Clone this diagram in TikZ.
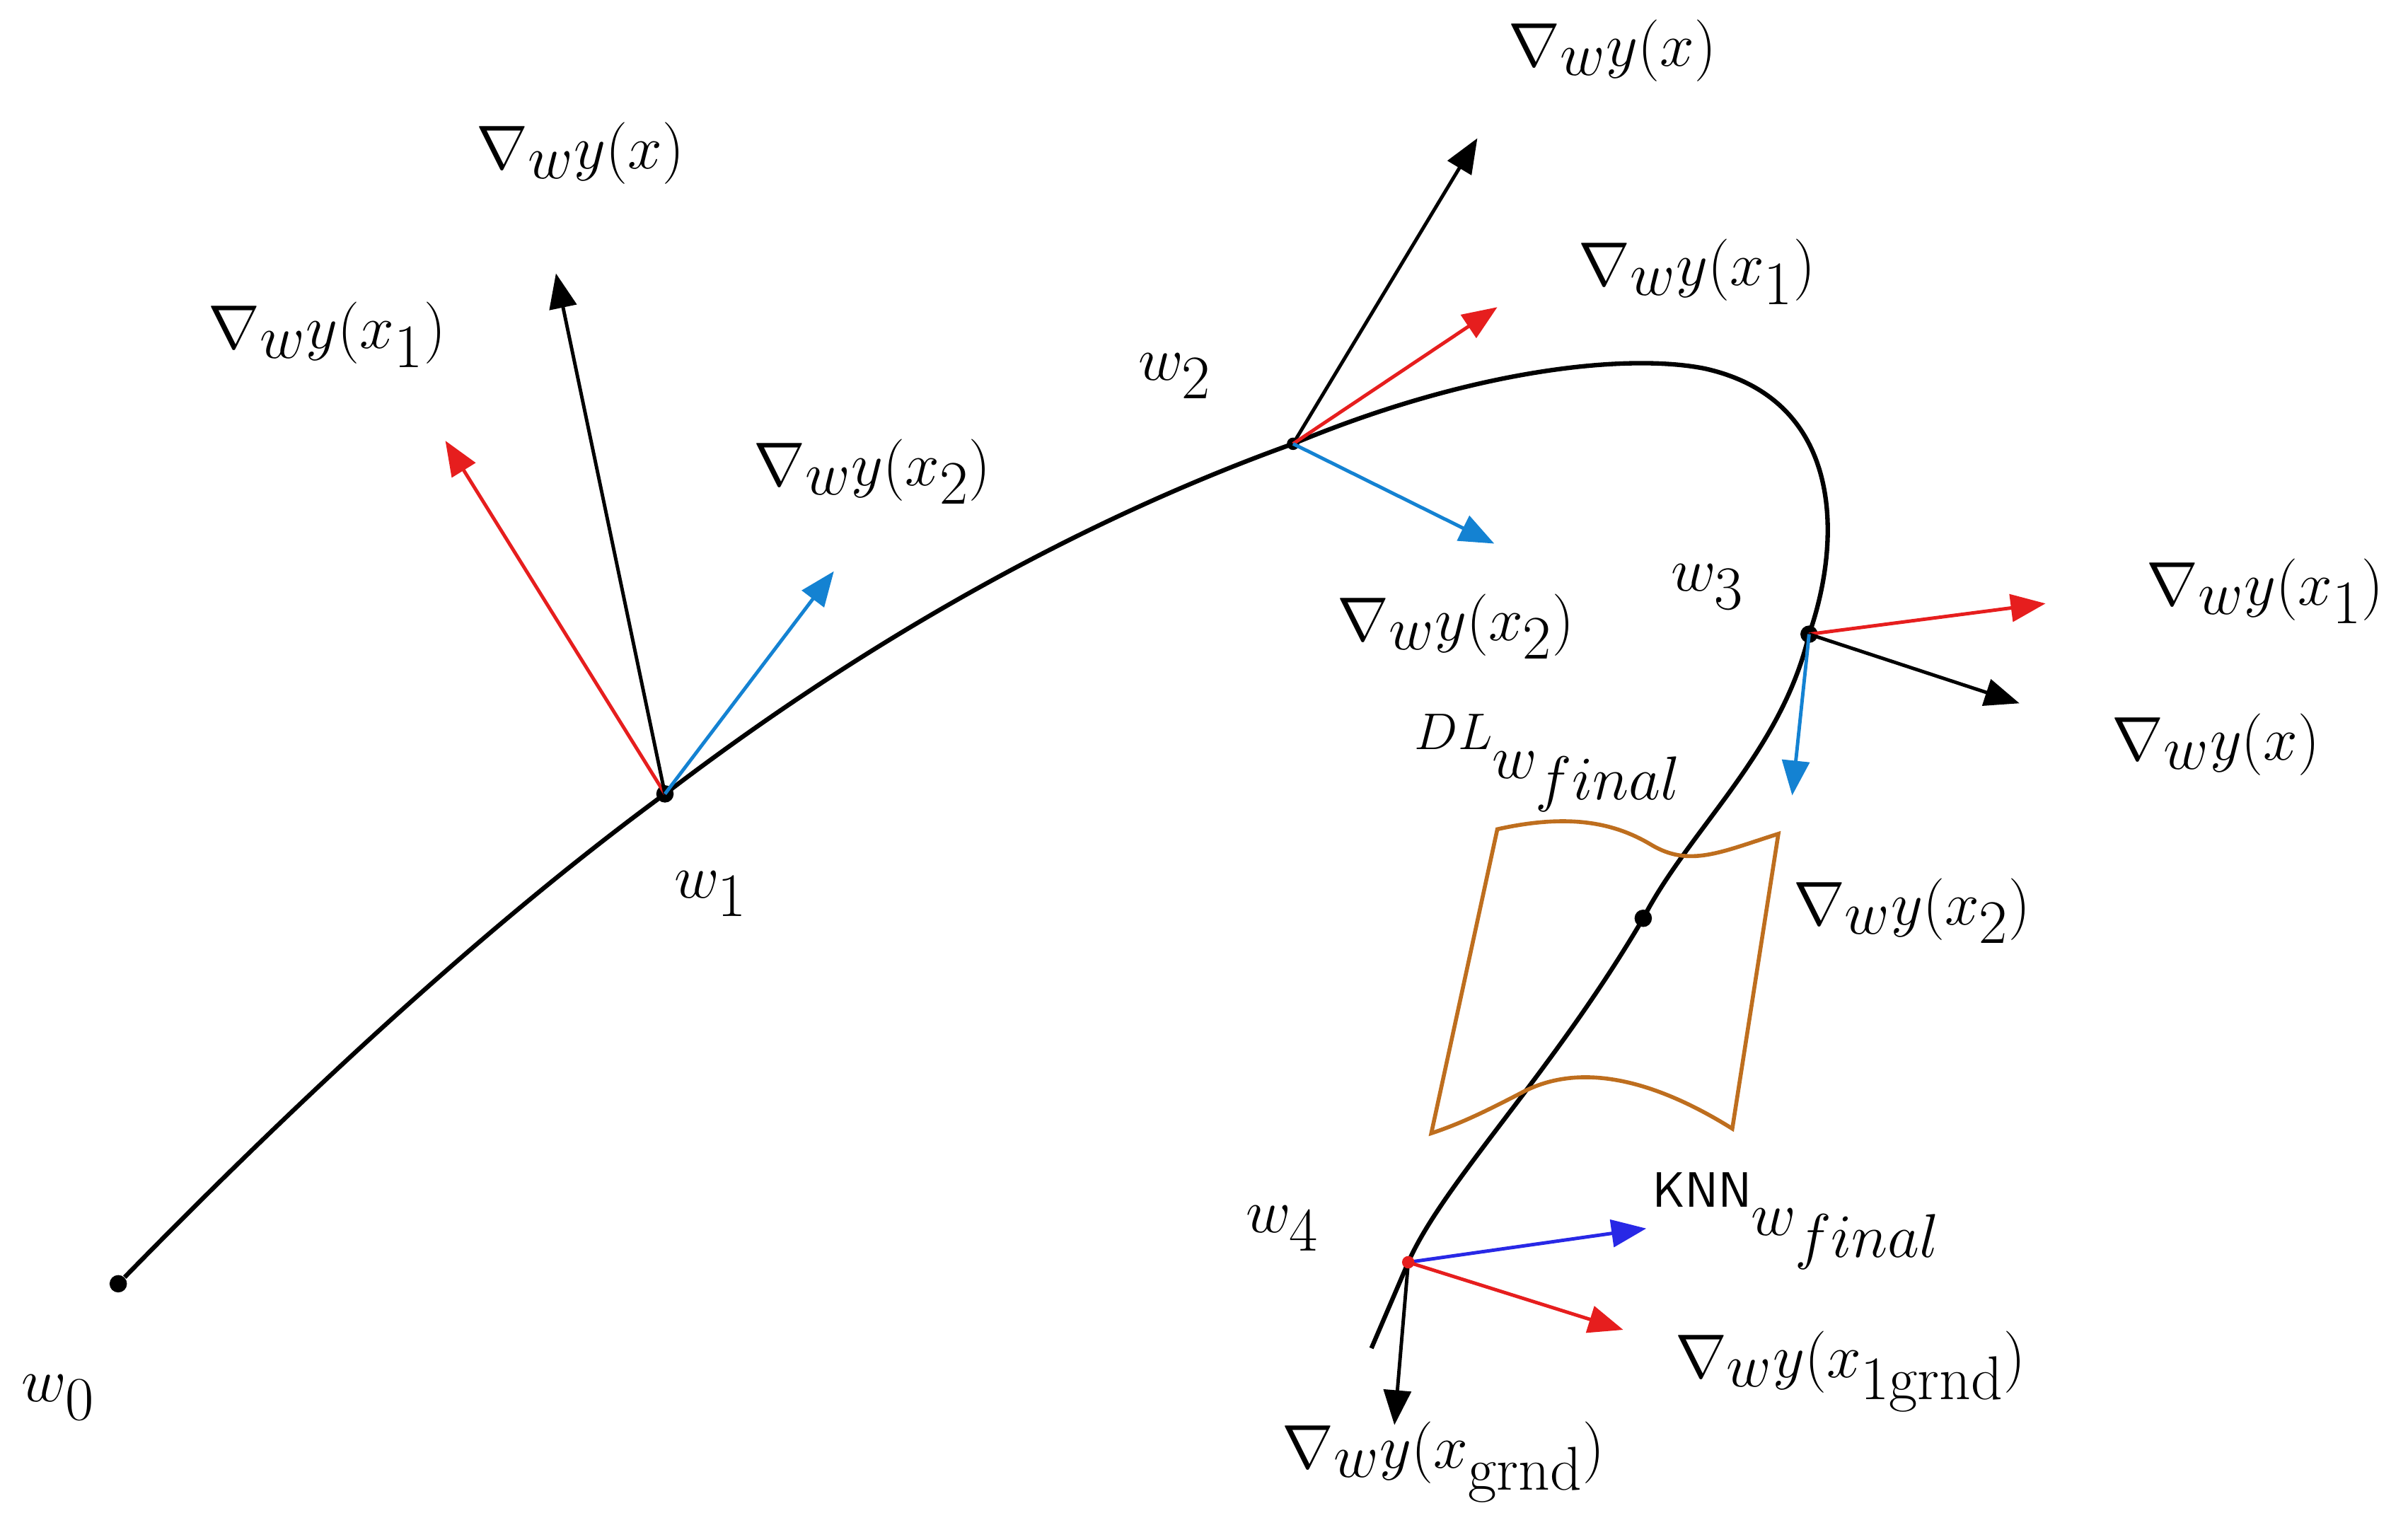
\documentclass[tikz,border=0pt]{standalone}
\usetikzlibrary{arrows.meta}
\definecolor{myred}{RGB}{230,30,30}
\definecolor{myblue}{RGB}{20,130,210}
\definecolor{mydblue}{RGB}{40,40,230}
\definecolor{mybrown}{RGB}{190,110,30}
\begin{document}
\begin{tikzpicture}[x=0.02171cm,y=-0.02171cm,
  lab/.style={font=\fontsize{33}{38}\selectfont, inner sep=0pt},
  vec/.style={line width=1.4pt,-{Triangle[length=14pt,width=11pt]}},
  pt/.style={circle,fill=black,inner sep=0pt,minimum size=7pt}]
\useasboundingbox (0,0) rectangle (1568,985);
\node[pt] (w0) at (77,836) {};
\coordinate (w1) at (433,517);
\coordinate (w2) at (842,289);
\coordinate (w3) at (1178,413);
\coordinate (w4) at (917,822);
\coordinate (e) at (893,878);
\draw[line width=1.8pt] (w0) .. controls (200,710) and (320,600) .. (w1)
  .. controls (560,420) and (700,340) .. (w2)
  .. controls (960,240) and (1060,230) .. (1110,240)
  .. controls (1200,260) and (1200,350) .. (w3)
  .. controls (1160,490) and (1100,540) .. (1070,598)
  .. controls (1010,700) and (940,770) .. (w4) -- (e);
\node[pt] at (w1) {};
\node[pt,minimum size=5pt] at (w2) {};
\node[pt] at (w3) {};
\node[pt] (mid) at (1070,598) {};
\coordinate (a1) at (290,287); \coordinate (b1) at (362,178); \coordinate (c1) at (543,372);
\draw[vec,myred] (w1) -- (a1);
\draw[vec,black] (w1) -- (b1);
\draw[vec,myblue] (w1) -- (c1);
\coordinate (a2) at (975,200); \coordinate (b2) at (962,90); \coordinate (c2) at (973,354);
\draw[vec,black] (w2) -- (b2);
\draw[vec,myred] (w2) -- (a2);
\draw[vec,myblue] (w2) -- (c2);
\coordinate (a3) at (1332,393); \coordinate (b3) at (1315,458); \coordinate (c3) at (1167,518);
\draw[vec,myred] (w3) -- (a3);
\draw[vec,black] (w3) -- (b3);
\draw[vec,myblue] (w3) -- (c3);
\coordinate (a4) at (1057,866); \coordinate (b4) at (908,928); \coordinate (c4) at (1072,800);
\draw[vec,mydblue] (w4) -- (c4);
\draw[vec,myred] (w4) -- (a4);
\draw[vec,black] (w4) -- (b4);
\node[circle,fill=myred,inner sep=0pt,minimum size=5pt] at (w4) {};
\draw[mybrown,line width=1.6pt] (975,540) .. controls (1020,530) and (1050,535) .. (1075,550)
  .. controls (1100,565) and (1120,555) .. (1158,543)
  -- (1128,735)
  .. controls (1080,705) and (1030,690) .. (990,712)
  .. controls (965,725) and (950,732) .. (932,738) -- cycle;
\node[lab] (l1) at (378,100) {$\nabla_w y(x)$};
\node[lab] (l2) at (213,218) {$\nabla_w y(x_1)$};
\node[lab] (l3) at (568,307) {$\nabla_w y(x_2)$};
\node[lab] (lw1) at (463,582) {$w_1$};
\node[lab] (lw2) at (765,245) {$w_2$};
\node[lab] (l4) at (1050,33) {$\nabla_w y(x)$};
\node[lab] (l5) at (1105,177) {$\nabla_w y(x_1)$};
\node[lab] (l6) at (948,408) {$\nabla_w y(x_2)$};
\node[lab] (lw3) at (1112,382) {$w_3$};
\node[lab] (l7) at (1475,385) {$\nabla_w y(x_1)$};
\node[lab] (l8) at (1443,485) {$\nabla_w y(x)$};
\node[lab] (l9) at (1008,497) {\raisebox{0.35em}{\fontsize{22}{26}\selectfont$DL$}$w_{final}$};
\node[lab] (l10) at (1245,593) {$\nabla_w y(x_2)$};
\node[lab] (l11) at (1170,795) {\raisebox{0.35em}{\fontsize{20}{24}\selectfont\sffamily KNN}$w_{final}$};
\node[lab] (lw4) at (835,800) {$w_4$};
\node[lab] (l12) at (1205,893) {$\nabla_w y(x_{1\mathrm{grnd}})$};
\node[lab] (l13) at (940,952) {$\nabla_w y(x_{\mathrm{grnd}})$};
\node[lab] (lw0) at (38,910) {$w_0$};
\end{tikzpicture}
\end{document}
